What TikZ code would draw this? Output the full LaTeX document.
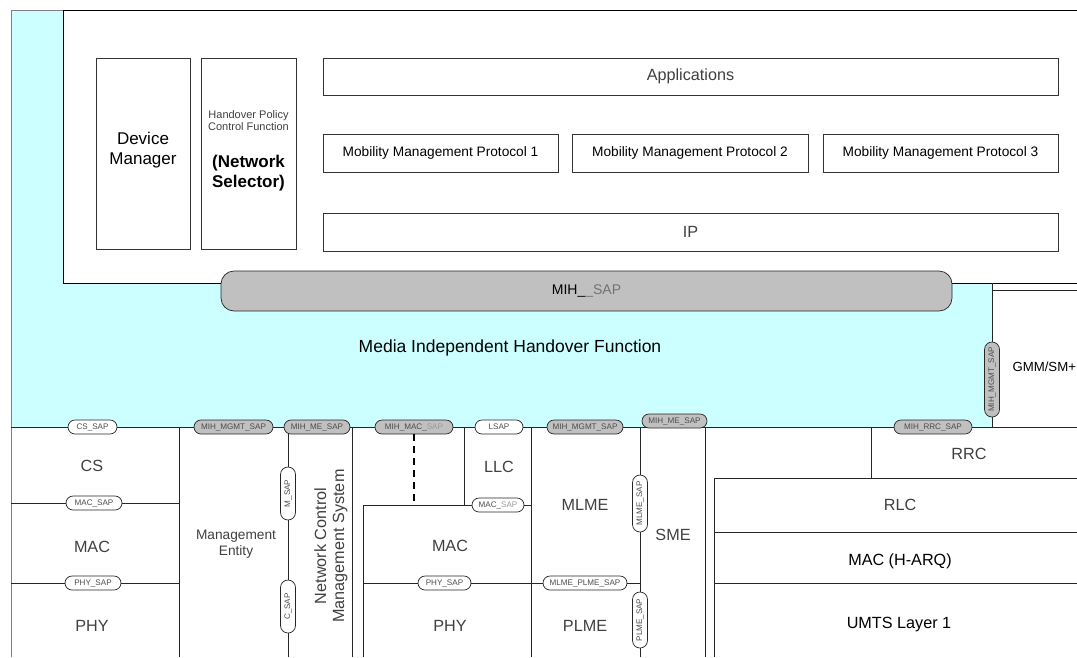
\documentclass[tikz,border=0pt]{standalone}
\usepackage{fontspec}
\setmainfont{Liberation Sans}
\usetikzlibrary{shapes.misc}
\definecolor{mihcyan}{HTML}{CCFFFF}
\definecolor{sapgrey}{HTML}{C0C0C0}

\begin{document}
\begin{tikzpicture}[x=1pt, y=-1pt,
    box/.style={draw=black!80, line width=0.7pt, fill=white, inner sep=0pt},
    sap/.style={rounded rectangle, draw=black!85, line width=0.7pt, fill=white, text=black!70,
        font=\fontsize{8.1}{8}\selectfont, inner sep=0pt, minimum height=14pt},
    gsap/.style={sap, fill=sapgrey},
    vsap/.style={sap, rotate=90, minimum height=15pt},
    layer/.style={font=\fontsize{16.2}{18}\selectfont, text=black!75},
    sep/.style={draw=black!85, line width=0.7pt}]
    \useasboundingbox (0,0) rectangle (1077,657);
    \fill[white] (0,0) rectangle (1077,657);

    % Media independent handover function area
    \fill[mihcyan] (11,10) rectangle (992,427);
    \draw[gray, line width=1pt] (11,657) -- (11,10) -- (63,10);

    % Upper layers
    \fill[white] (63,10) rectangle (1077,283);
    \draw[sep, draw=black] (1077,10) -- (63,10) -- (63,283) -- (1077,283);
    \node[box, minimum width=94, minimum height=191] (devmgr) at (143,153.5) {};
    \node[align=center, font=\fontsize{17}{20}\selectfont] (devtext) at (143,150) {Device\\Manager};
    \node[box, minimum width=95, minimum height=191] (netsel) at (248.5,153.5) {};
    \node[align=center, font=\fontsize{11}{12}\selectfont, text=black!75] (hpcf) at (248.5,121) {Handover Policy\\Control Function};
    \node[align=center, font=\bfseries\fontsize{17}{20}\selectfont] (selector) at (248.5,173) {(Network\\Selector)};
    \node[box, minimum width=735, minimum height=37, font=\fontsize{16.2}{18}\selectfont, text=black!75] (apps) at (690.5,76.5) {Applications};
    \node[box, minimum width=235, minimum height=38, font=\fontsize{13.7}{15}\selectfont] (mmp1) at (440.5,153) {Mobility Management Protocol 1};
    \node[box, minimum width=236, minimum height=38, font=\fontsize{13.7}{15}\selectfont] (mmp2) at (690,153) {Mobility Management Protocol 2};
    \node[box, minimum width=235, minimum height=38, font=\fontsize{13.7}{15}\selectfont] (mmp3) at (940.5,153) {Mobility Management Protocol 3};
    \node[box, minimum width=735, minimum height=38, font=\fontsize{16.2}{18}\selectfont, text=black!75] (ip) at (690.5,232) {IP};

    % MIH function and its SAPs
    \node[draw=black!85, line width=0.7pt, fill=sapgrey, rounded corners=13, minimum width=731, minimum height=40,
        font=\fontsize{14}{15}\selectfont] (mihsap) at (586.5,291) {MIH\_\textcolor{black!55}{\_SAP}};
    \node[font=\fontsize{17.5}{19}\selectfont] (mihf) at (510,348) {Media Independent Handover Function};
    \draw[sep] (992,283) -- (992,427);
    \draw[sep] (992,290) -- (1077,290);
    \node[anchor=west, font=\fontsize{13.2}{15}\selectfont] (gmm) at (1009,367) {GMM/SM+};
    \node[vsap, fill=sapgrey, minimum width=75] (mihmgmt3) at (992,379.5) {MIH\_MGMT\_SAP};

    % Lower layer boundaries
    \draw[sep] (11,427) -- (1077,427);
    \draw[sep] (11,503) -- (179,503);
    \draw[sep] (11,583) -- (179,583);
    \foreach \lx in {179,288,352,531,640,705}
        \draw[sep] (\lx,427) -- (\lx,657);
    \draw[sep] (464,427) -- (464,505);
    \draw[sep] (363,657) -- (363,505) -- (531,505);
    \draw[sep] (363,583) -- (640,583);
    \draw[sep] (714,657) -- (714,478) -- (1077,478);
    \draw[sep] (714,532) -- (1077,532);
    \draw[sep] (714,583) -- (1077,583);
    \draw[sep] (871,427) -- (871,478);

    % Layer names
    \node[layer] (cs) at (92,466) {CS};
    \node[layer] (mac1) at (92,547) {MAC};
    \node[layer] (phy1) at (92,626) {PHY};
    \node[align=center, font=\fontsize{13.7}{16}\selectfont, text=black!75] (me) at (236,544) {Management\\Entity};
    \node[layer, rotate=90, align=center, font=\fontsize{16.2}{18}\selectfont] (ncms) at (331,546) {Network Control\\Management System};
    \node[layer] (llc) at (499,467) {LLC};
    \node[layer] (mac2) at (450,546) {MAC};
    \node[layer] (phy2) at (450,626) {PHY};
    \node[layer] (mlme) at (585,505) {MLME};
    \node[layer] (plme) at (585,626) {PLME};
    \node[layer] (sme) at (673,535) {SME};
    \node[layer] (rrc) at (969,454) {RRC};
    \node[layer] (rlc) at (900,505) {RLC};
    \node[layer, text=black] (macharq) at (900,561) {MAC (H-ARQ)};
    \node[layer, text=black] (umts) at (899,625) {UMTS Layer 1};

    % Service access points
    \node[sap, minimum width=49] (cssap) at (92.5,427) {CS\_SAP};
    \node[gsap, minimum width=79] (mihmgmt1) at (233.5,427) {MIH\_MGMT\_SAP};
    \node[gsap, minimum width=66] (mihme1) at (317,427) {MIH\_ME\_SAP};
    \node[sap, minimum width=56] (macsap1) at (94,503) {MAC\_SAP};
    \node[sap, minimum width=56] (physap1) at (93,583) {PHY\_SAP};
    \node[vsap, minimum width=53] (msap) at (288,493.5) {M\_SAP};
    \node[vsap, minimum width=53] (csap) at (288,606.5) {C\_SAP};
    \node[gsap, minimum width=78] (mihmac) at (414,427) {MIH\_MAC\_\textcolor{black!40}{SAP}};
    \node[sap, minimum width=48] (lsap) at (499,427) {LSAP};
    \node[sap, minimum width=52] (macsap2) at (498,505) {MAC\_\textcolor{black!40}{SAP}};
    \node[sap, minimum width=53] (physap2) at (444.5,583) {PHY\_SAP};
    \node[gsap, minimum width=76] (mihmgmt2) at (585,427) {MIH\_MGMT\_SAP};
    \node[sap, minimum width=84] (mlmeplme) at (585,583) {MLME\_PLME\_SAP};
    \node[vsap, minimum width=57] (mlmesap) at (640,503.5) {MLME\_SAP};
    \node[vsap, minimum width=56] (plmesap) at (640,620) {PLME\_SAP};
    \node[gsap, minimum width=65] (mihme2) at (674.5,421) {MIH\_ME\_SAP};
    \node[gsap, minimum width=78] (mihrrc) at (933,427) {MIH\_RRC\_SAP};

    % MIH_MAC_SAP down to the MAC
    \coordinate (mactop) at (414,505);
    \draw[black, line width=1.3pt, dash pattern=on 7pt off 5pt] (mihmac.south) -- (mactop);
\end{tikzpicture}
\end{document}
